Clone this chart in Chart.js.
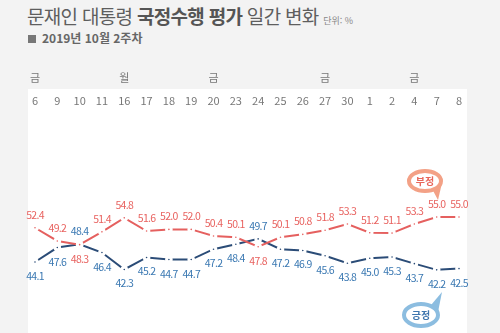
<!DOCTYPE html>
<html lang="ko">
<head>
<meta charset="utf-8">
<script src="https://cdn.jsdelivr.net/npm/chart.js@4"></script>
<style>
  html, body { margin: 0; padding: 0; }
  body {
    width: 500px; height: 333px; overflow: hidden; position: relative;
    background: #f3f3f3;
    font-family: "Noto Sans CJK KR", "Noto Sans", sans-serif;
  }
  #title {
    position: absolute; left: 27px; top: 2px;
    font-size: 19px; color: #5e5e5e; letter-spacing: -0.7px; white-space: nowrap;
  }
  #title b { font-weight: 700; color: #555; }
  #title small { font-size: 9px; color: #888; letter-spacing: 0; }
  #sub {
    position: absolute; left: 28px; top: 29px;
    font-size: 12px; font-weight: 700; color: #666; white-space: nowrap;
  }
  #sub i {
    display: inline-block; width: 8px; height: 8px; background: #777;
    margin-right: 6px; vertical-align: 0px;
  }
  #panel {
    position: absolute; left: 28px; top: 89px; width: 439px; height: 244px;
    background: #fff;
  }
  #wrap { position: absolute; left: 0; top: 0; width: 500px; height: 333px; }
</style>
</head>
<body>
<div id="title">문재인 대통령 <b>국정수행 평가</b> 일간 변화 <small>단위: %</small></div>
<div id="sub"><i></i>2019년 10월 2주차</div>
<div id="panel"></div>
<div id="wrap"><canvas id="chart" width="500" height="333"></canvas></div>
<script>
// 날짜 / 요일
const dates = ['6', '9', '10', '11', '16', '17', '18', '19', '20', '23',
               '24', '25', '26', '27', '30', '1', '2', '4', '7', '8'];
const weekdays = ['금', '', '', '', '월', '', '', '', '금', '',
                  '', '', '', '금', '', '', '', '금', '', ''];

// 부정 / 긍정 (%)
const negative = [52.4, 49.2, 48.3, 51.4, 54.8, 51.6, 52.0, 52.0, 50.4, 50.1,
                  47.8, 50.1, 50.8, 51.8, 53.3, 51.2, 51.1, 53.3, 55.0, 55.0];
const positive = [44.1, 47.6, 48.4, 46.4, 42.3, 45.2, 44.7, 44.7, 47.2, 48.4,
                  49.7, 47.2, 46.9, 45.6, 43.8, 45.0, 45.3, 43.7, 42.2, 42.5];

const RED = '#e5605f';
const RED_TXT = '#e8625f';
const NAVY = '#2b4c77';
const BLUE_TXT = '#3a78b2';

// ── value labels ────────────────────────────────────────────────────────────
const valueLabels = {
  id: 'valueLabels',
  afterDatasetsDraw(chart) {
    const { ctx } = chart;
    ctx.save();
    ctx.font = '10.5px "Noto Sans CJK KR", "Noto Sans", sans-serif';
    ctx.letterSpacing = '-0.7px';
    ctx.textAlign = 'center';
    ctx.textBaseline = 'middle';
    chart.data.datasets.forEach((ds, di) => {
      const meta = chart.getDatasetMeta(di);
      meta.data.forEach((pt, i) => {
        const other = chart.data.datasets[1 - di].data[i];
        const above = ds.data[i] >= other;
        const dy = above ? -13 : 14;
        ctx.fillStyle = ds.labelColor;
        ctx.fillText(ds.data[i].toFixed(1), pt.x, pt.y + dy);
      });
    });
    ctx.restore();
  }
};

// ── weekday row + speech bubbles ────────────────────────────────────────────
function bubble(ctx, cx, cy, rx, ry, tail, stroke, text, color) {
  ctx.save();
  ctx.lineWidth = 4;
  ctx.strokeStyle = stroke;
  ctx.beginPath();
  ctx.moveTo(tail[0][0], tail[0][1]);
  ctx.lineTo(tail[1][0], tail[1][1]);
  ctx.lineTo(tail[2][0], tail[2][1]);
  ctx.closePath();
  ctx.fillStyle = stroke;
  ctx.fill();
  ctx.beginPath();
  ctx.ellipse(cx, cy, rx, ry, 0, 0, Math.PI * 2);
  ctx.fillStyle = '#fff';
  ctx.fill();
  ctx.stroke();
  ctx.font = 'bold 10px "Noto Sans CJK KR", sans-serif';
  ctx.fillStyle = color;
  ctx.textAlign = 'center';
  ctx.textBaseline = 'middle';
  ctx.fillText(text, cx, cy + 0.5);
  ctx.restore();
}

const decorations = {
  id: 'decorations',
  afterDraw(chart) {
    const { ctx } = chart;
    const x = chart.scales.x;
    ctx.save();
    ctx.font = '11px "Noto Sans CJK KR", sans-serif';
    ctx.fillStyle = '#777';
    ctx.textAlign = 'center';
    ctx.textBaseline = 'middle';
    weekdays.forEach((w, i) => {
      if (w) ctx.fillText(w, x.getPixelForValue(i), 78);
    });
    ctx.restore();

    bubble(ctx, 425, 181, 16, 10, [[430, 185], [442, 183], [438, 200]],
      '#f3a186', '부정', '#e8665a');
    bubble(ctx, 421, 315, 17, 11, [[426, 311], [438, 312], [442, 292]],
      '#8cbde0', '긍정', '#3f76ae');
  }
};

new Chart(document.getElementById('chart'), {
  type: 'line',
  data: {
    labels: dates,
    datasets: [
      {
        label: '부정',
        data: negative,
        borderColor: RED,
        backgroundColor: RED,
        labelColor: RED_TXT,
        borderWidth: 2,
        pointRadius: 2.3,
        pointBorderWidth: 3,
        pointBorderColor: '#fff',
        pointBackgroundColor: RED,
        tension: 0,
      },
      {
        label: '긍정',
        data: positive,
        borderColor: NAVY,
        backgroundColor: NAVY,
        labelColor: BLUE_TXT,
        borderWidth: 2,
        pointRadius: 2.3,
        pointBorderWidth: 3,
        pointBorderColor: '#fff',
        pointBackgroundColor: NAVY,
        tension: 0,
      },
    ],
  },
  options: {
    responsive: false,
    animation: false,
    layout: { padding: { left: 35, right: 41, top: 94, bottom: 0 } },
    plugins: { legend: { display: false }, tooltip: { enabled: false } },
    scales: {
      x: {
        position: 'top',
        offset: false,
        grid: { display: false, drawTicks: false },
        border: { display: false },
        ticks: {
          padding: 0,
          color: '#777',
          font: { size: 11, family: '"Noto Sans CJK KR", sans-serif' },
          maxRotation: 0,
          autoSkip: false,
        },
      },
      y: {
        display: false,
        min: 28.6,
        max: 81.6,
      },
    },
  },
  plugins: [valueLabels, decorations],
});
</script>
</body>
</html>
